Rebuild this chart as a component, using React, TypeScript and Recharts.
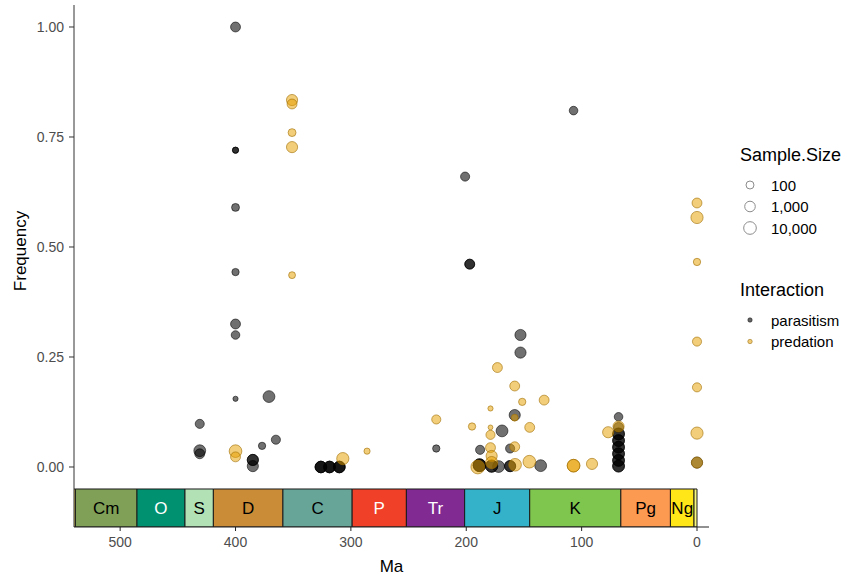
import { ScatterChart, Scatter, XAxis, YAxis, ZAxis, ReferenceArea } from 'recharts';

// geologic periods along the bottom of the panel (Ma)
const periodNames = ['', 'Cm', 'O', 'S', 'D', 'C', 'P', 'Tr', 'J', 'K', 'Pg', 'Ng', ''];
const periodStart = [635, 538.8, 485.4, 443.8, 419.2, 358.9, 298.9, 251.9, 201.4, 145, 66, 23.03, 2.58];
const periodEnd = [538.8, 485.4, 443.8, 419.2, 358.9, 298.9, 251.9, 201.4, 145, 66, 23.03, 2.58, 0];
const periodColors = ['#FED96A', '#7FA056', '#009270', '#B3E1B6', '#CB8C37', '#67A599', '#F04028', '#812B92', '#34B2C9', '#7FC64E', '#FD9A52', '#FFE619', '#F9F97F'];
const periodText = ['#000', '#000', '#fff', '#000', '#000', '#000', '#fff', '#fff', '#000', '#000', '#000', '#000', '#000'];

// parasitism records: age (Ma), frequency, sample size
const parasitismMa = [
  400, 400, 400, 400, 400, 400, 400, 400,
  371, 365, 377, 385, 385, 385,
  431, 431, 431,
  326, 326, 326, 318.5, 318.5, 318.5, 310, 310, 310,
  226, 201, 197, 197,
  153, 153, 158, 169, 188, 162,
  188.5, 188.5, 188.5, 178, 178, 172, 162, 162, 135.5,
  107,
  68, 68, 68, 68, 68, 68, 68, 68, 68, 68, 68, 68, 68, 68,
  0,
];
const parasitismFreq = [
  1.0, 0.72, 0.72, 0.59, 0.443, 0.325, 0.3, 0.155,
  0.16, 0.062, 0.048, 0.016, 0.016, 0.002,
  0.098, 0.037, 0.03,
  0, 0, 0, 0, 0, 0, 0, 0, 0,
  0.042, 0.66, 0.461, 0.461,
  0.3, 0.26, 0.118, 0.082, 0.039, 0.042,
  0.004, 0.004, 0.004, 0.002, 0.002, 0.001, 0.002, 0.002, 0.003,
  0.81,
  0.114, 0.09, 0.075, 0.075, 0.06, 0.06, 0.045, 0.045, 0.03, 0.03, 0.015, 0.015, 0.002, 0.002,
  0.01,
];
const parasitismN = [
  300, 20, 20, 60, 40, 300, 100, 12,
  2000, 150, 40, 1000, 1000, 1000,
  150, 2000, 300,
  1500, 1500, 1500, 1500, 1500, 1500, 1500, 1500, 1500,
  40, 150, 300, 300,
  1000, 1000, 1000, 2000, 150, 150,
  5000, 5000, 5000, 3000, 3000, 2000, 1000, 1000, 2000,
  100,
  100, 300, 2000, 2000, 2000, 2000, 2000, 2000, 2000, 2000, 2000, 2000, 2000, 2000,
  1000,
];

// predation records: age (Ma), frequency, sample size
const predationMa = [
  400, 400,
  351, 351, 351, 351, 351,
  307, 286, 226,
  195, 173, 158, 151.5, 132.5, 179, 158, 179, 179, 145, 179, 158,
  190, 178, 178, 157.7, 145.3, 107, 107, 91,
  77, 68,
  0, 0, 0, 0, 0, 0, 0,
];
const predationFreq = [
  0.036, 0.023,
  0.834, 0.825, 0.76, 0.727, 0.436,
  0.019, 0.036, 0.108,
  0.092, 0.226, 0.184, 0.148, 0.152, 0.133, 0.112, 0.09, 0.073, 0.09, 0.044, 0.046,
  0.0, 0.025, 0.01, 0.005, 0.012, 0.003, 0.003, 0.007,
  0.079, 0.092,
  0.6, 0.567, 0.466, 0.285, 0.181, 0.077, 0.01,
];
const predationN = [
  5000, 300,
  1000, 300, 60, 1000, 30,
  3000, 20, 150,
  40, 300, 300, 40, 300, 12, 30, 10, 150, 300, 300, 300,
  20000, 1000, 3000, 5000, 5000, 5000, 5000, 1000,
  1000, 1000,
  300, 3000, 40, 150, 150, 3000, 1000,
];

const sizeBreaks = [100, 1000, 10000];
const sizeLabels = ['100', '1,000', '10,000'];

const yTicks = [0, 0.25, 0.5, 0.75, 1];
const xTicks = [500, 400, 300, 200, 100, 0];

const Z_DOMAIN = [1, 5];
const Z_RANGE = [18, 178];

const toRows = (ma: number[], freq: number[], n: number[]) =>
  ma.map((m, i) => ({ ma: m, freq: freq[i], z: Math.log10(n[i]) }));

const parasitism = toRows(parasitismMa, parasitismFreq, parasitismN);
const predation = toRows(predationMa, predationFreq, predationN);

const FONT = '"Liberation Sans", Arial, sans-serif';
const TIMESCALE_TOP = -0.05;
const Y_MIN = -0.1364;

function radiusFor(n: number) {
  const t = (Math.log10(n) - Z_DOMAIN[0]) / (Z_DOMAIN[1] - Z_DOMAIN[0]);
  const area = Z_RANGE[0] + t * (Z_RANGE[1] - Z_RANGE[0]);
  return Math.sqrt(area / Math.PI);
}

function LegendPanel() {
  return (
    <svg
      width={116}
      height={230}
      style={{ position: 'absolute', left: 730, top: 130, fontFamily: FONT }}
    >
      <text x={10} y={25} fontSize={18} dominantBaseline="central" fill="#000">
        Sample.Size
      </text>
      {sizeBreaks.map((n, i) => (
        <g key={n}>
          <circle cx={20} cy={55 + i * 21.5} r={radiusFor(n) - 0.3} fill="#fff" stroke="#8c8c8c" strokeWidth={1} />
          <text x={41} y={55 + i * 21.5} fontSize={15} dominantBaseline="central" fill="#000">
            {sizeLabels[i]}
          </text>
        </g>
      ))}
      <text x={10} y={160} fontSize={18} dominantBaseline="central" fill="#000">
        Interaction
      </text>
      <circle cx={20} cy={190} r={2.2} fill="rgba(0,0,0,0.6)" stroke="rgba(0,0,0,0.6)" strokeWidth={0.8} />
      <text x={41} y={190} fontSize={15} dominantBaseline="central" fill="#000">
        parasitism
      </text>
      <circle cx={20} cy={211.5} r={2.2} fill="rgba(230,159,0,0.55)" stroke="rgba(150,110,20,0.7)" strokeWidth={0.8} />
      <text x={41} y={211.5} fontSize={15} dominantBaseline="central" fill="#000">
        predation
      </text>
    </svg>
  );
}

export default function App() {
  return (
    <div style={{ position: 'absolute', left: 0, top: 0, width: 846, height: 577, background: '#fff' }}>
      <ScatterChart
        width={846}
        height={577}
        margin={{ top: 5, right: 137, bottom: 0, left: 0 }}
        style={{ fontFamily: FONT }}
      >
        <XAxis
          type="number"
          dataKey="ma"
          reversed
          domain={[-10.4, 540]}
          allowDataOverflow
          ticks={xTicks}
          height={50}
          tickSize={4}
          tickMargin={6}
          stroke="#222"
          tick={{ fill: '#4d4d4d', fontSize: 14 }}
          label={{
            content: () => (
              <text x={391.5} y={566} textAnchor="middle" dominantBaseline="central" fontSize={17} fill="#000">
                Ma
              </text>
            ),
          }}
        />
        <YAxis
          type="number"
          dataKey="freq"
          domain={[Y_MIN, 1.05]}
          allowDataOverflow
          ticks={yTicks}
          width={74}
          tickSize={5}
          tickMargin={5}
          stroke="#333"
          tick={{ fill: '#4d4d4d', fontSize: 14 }}
          tickFormatter={(v: number) => v.toFixed(2)}
          label={{
            content: () => (
              <text
                x={20}
                y={251}
                transform="rotate(-90 20 251)"
                textAnchor="middle"
                dominantBaseline="central"
                fontSize={17}
                fill="#000"
              >
                Frequency
              </text>
            ),
          }}
        />
        <ZAxis type="number" dataKey="z" domain={Z_DOMAIN} range={Z_RANGE} />

        {periodNames.map((name, i) => (
          <ReferenceArea
            key={i}
            x1={periodStart[i]}
            x2={periodEnd[i]}
            y1={TIMESCALE_TOP}
            y2={Y_MIN}
            ifOverflow="hidden"
            fill={periodColors[i]}
            fillOpacity={1}
            stroke="#1a1a1a"
            strokeWidth={1}
            label={
              name
                ? { value: name, position: 'center', fill: periodText[i], fontSize: 17, fontFamily: FONT }
                : undefined
            }
          />
        ))}

        <Scatter
          name="parasitism"
          data={parasitism}
          fill="rgba(0,0,0,0.56)"
          stroke="rgba(0,0,0,0.56)"
          strokeWidth={1}
          isAnimationActive={false}
        />
        <Scatter
          name="predation"
          data={predation}
          fill="rgba(230,159,0,0.52)"
          stroke="rgba(160,110,0,0.6)"
          strokeWidth={1}
          isAnimationActive={false}
        />
      </ScatterChart>
      <LegendPanel />
    </div>
  );
}
